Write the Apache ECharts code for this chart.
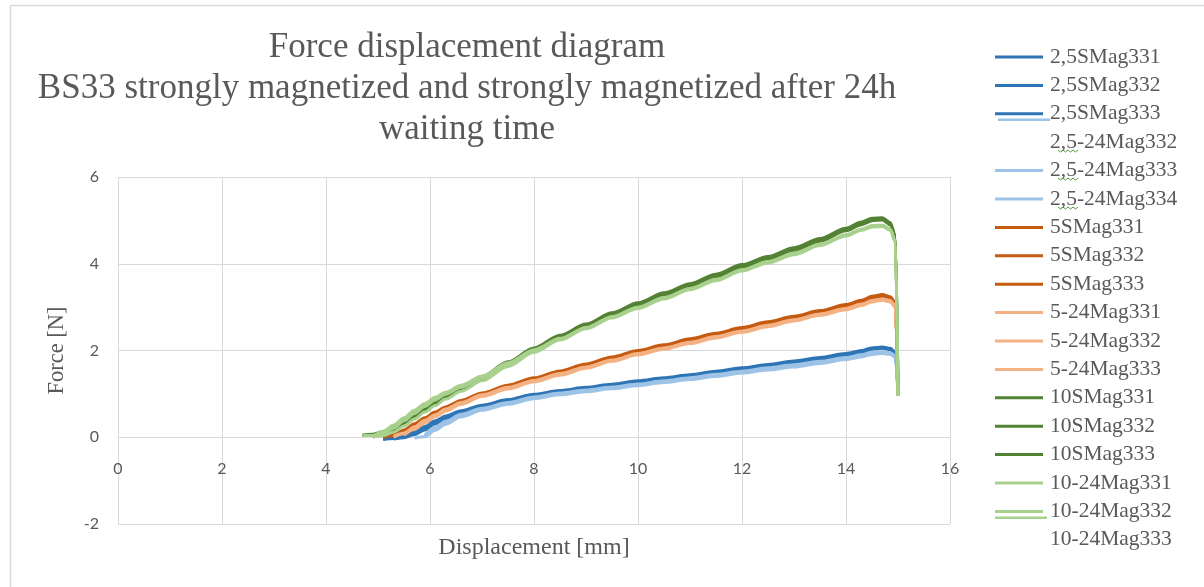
<!DOCTYPE html>
<html>
<head>
<meta charset="utf-8">
<title>Force displacement diagram</title>
<script src="https://cdn.jsdelivr.net/npm/echarts@6/dist/echarts.min.js"></script>
<style>
  html, body { margin: 0; padding: 0; background: #ffffff; }
  #chart { width: 1204px; height: 587px; }
</style>
</head>
<body>
<div id="chart"></div>
<script>
// Displacement grid [mm] shared by all measurement runs
const disp = [4.7, 4.9, 5.1, 5.3, 5.5, 5.7, 5.9, 6.1, 6.3, 6.6, 7.0, 7.5, 8.0, 8.5, 9.0, 9.5,
              10.0, 10.5, 11.0, 11.5, 12.0, 12.5, 13.0, 13.5, 14.0, 14.3, 14.5, 14.7, 14.85, 14.95, 15.0];

// Force [N] per run (null = run not yet started)
const f25S331 = [null, null, -0.05, -0.03, 0.01, 0.09, 0.21, 0.35, 0.46, 0.59, 0.72, 0.85, 0.98, 1.06, 1.13, 1.21, 1.28, 1.35, 1.43, 1.50, 1.58, 1.66, 1.74, 1.82, 1.91, 1.98, 2.05, 2.07, 2.04, 1.95, 1.05];
const f25S332 = [null, null, -0.04, -0.02, 0.03, 0.12, 0.25, 0.38, 0.49, 0.61, 0.74, 0.87, 0.99, 1.08, 1.15, 1.22, 1.30, 1.37, 1.44, 1.52, 1.60, 1.68, 1.76, 1.84, 1.93, 2.00, 2.06, 2.08, 2.05, 1.96, 1.10];
const f25S333 = [null, null, null, -0.04, -0.01, 0.06, 0.17, 0.31, 0.43, 0.57, 0.70, 0.83, 0.96, 1.05, 1.11, 1.19, 1.26, 1.33, 1.41, 1.48, 1.56, 1.64, 1.72, 1.80, 1.89, 1.96, 2.03, 2.05, 2.02, 1.93, 1.00];
const f25h332 = [null, null, null, null, null, null, 0.03, 0.20, 0.34, 0.50, 0.64, 0.78, 0.91, 1.00, 1.07, 1.14, 1.21, 1.28, 1.35, 1.42, 1.50, 1.57, 1.64, 1.72, 1.81, 1.87, 1.93, 1.95, 1.93, 1.86, 1.05];
const f25h333 = [null, null, null, null, null, -0.02, 0.01, 0.16, 0.30, 0.47, 0.62, 0.76, 0.89, 0.98, 1.05, 1.12, 1.19, 1.26, 1.33, 1.40, 1.48, 1.55, 1.62, 1.70, 1.79, 1.85, 1.91, 1.93, 1.91, 1.84, 1.00];
const f25h334 = [null, null, null, null, null, null, 0.05, 0.23, 0.37, 0.53, 0.67, 0.80, 0.93, 1.02, 1.09, 1.16, 1.23, 1.30, 1.37, 1.45, 1.52, 1.60, 1.67, 1.75, 1.84, 1.90, 1.96, 1.97, 1.95, 1.88, 1.10];

const f5S331 = [null, null, 0.00, 0.04, 0.14, 0.28, 0.42, 0.55, 0.67, 0.82, 0.99, 1.17, 1.34, 1.50, 1.66, 1.82, 1.97, 2.10, 2.24, 2.37, 2.50, 2.63, 2.76, 2.89, 3.03, 3.13, 3.22, 3.27, 3.22, 3.08, 1.00];
const f5S332 = [null, null, 0.01, 0.06, 0.17, 0.31, 0.45, 0.58, 0.70, 0.85, 1.02, 1.20, 1.37, 1.53, 1.69, 1.85, 2.00, 2.13, 2.27, 2.40, 2.53, 2.66, 2.79, 2.92, 3.06, 3.16, 3.25, 3.29, 3.24, 3.10, 1.05];
const f5S333 = [null, null, null, 0.02, 0.11, 0.25, 0.39, 0.52, 0.64, 0.79, 0.97, 1.15, 1.32, 1.48, 1.64, 1.80, 1.95, 2.08, 2.22, 2.35, 2.48, 2.61, 2.74, 2.87, 3.01, 3.11, 3.20, 3.25, 3.20, 3.06, 0.95];
const f5h331 = [null, null, null, 0.00, 0.08, 0.22, 0.37, 0.50, 0.63, 0.78, 0.96, 1.13, 1.30, 1.45, 1.61, 1.77, 1.92, 2.05, 2.18, 2.31, 2.44, 2.57, 2.70, 2.83, 2.96, 3.06, 3.14, 3.18, 3.14, 3.02, 1.00];
const f5h332 = [null, null, null, null, 0.05, 0.18, 0.33, 0.47, 0.60, 0.76, 0.94, 1.11, 1.28, 1.43, 1.59, 1.75, 1.90, 2.03, 2.16, 2.29, 2.42, 2.55, 2.68, 2.81, 2.94, 3.04, 3.12, 3.16, 3.12, 3.00, 0.95];
const f5h333 = [null, null, null, 0.02, 0.10, 0.24, 0.39, 0.52, 0.65, 0.80, 0.98, 1.15, 1.31, 1.47, 1.62, 1.78, 1.93, 2.06, 2.19, 2.32, 2.45, 2.58, 2.71, 2.84, 2.97, 3.07, 3.15, 3.19, 3.15, 3.03, 1.05];

const f10S331 = [0.05, 0.06, 0.10, 0.20, 0.36, 0.52, 0.68, 0.82, 0.96, 1.13, 1.36, 1.70, 2.03, 2.32, 2.58, 2.84, 3.07, 3.30, 3.51, 3.73, 3.95, 4.14, 4.34, 4.55, 4.79, 4.93, 5.02, 5.04, 4.93, 4.62, 1.05];
const f10S332 = [0.04, 0.07, 0.13, 0.24, 0.40, 0.56, 0.72, 0.86, 1.00, 1.17, 1.40, 1.74, 2.06, 2.35, 2.61, 2.87, 3.10, 3.33, 3.54, 3.76, 3.98, 4.17, 4.37, 4.58, 4.82, 4.96, 5.05, 5.06, 4.95, 4.64, 1.10];
const f10S333 = [null, 0.05, 0.08, 0.17, 0.32, 0.48, 0.64, 0.78, 0.92, 1.10, 1.33, 1.67, 2.00, 2.29, 2.55, 2.81, 3.04, 3.27, 3.48, 3.70, 3.92, 4.11, 4.31, 4.52, 4.76, 4.90, 4.99, 5.01, 4.90, 4.59, 1.00];
const f10h331 = [0.04, 0.04, 0.14, 0.28, 0.45, 0.62, 0.78, 0.92, 1.04, 1.20, 1.41, 1.72, 2.02, 2.28, 2.53, 2.78, 3.00, 3.22, 3.43, 3.64, 3.86, 4.05, 4.24, 4.45, 4.67, 4.80, 4.88, 4.89, 4.80, 4.52, 1.05];
const f10h332 = [null, 0.00, 0.04, 0.12, 0.26, 0.42, 0.58, 0.73, 0.88, 1.06, 1.30, 1.63, 1.96, 2.24, 2.50, 2.75, 2.97, 3.19, 3.40, 3.61, 3.83, 4.02, 4.21, 4.42, 4.64, 4.77, 4.85, 4.86, 4.77, 4.50, 0.95];
const f10h333 = [null, 0.02, 0.09, 0.21, 0.38, 0.55, 0.71, 0.86, 0.99, 1.15, 1.37, 1.68, 1.99, 2.26, 2.52, 2.77, 2.99, 3.21, 3.42, 3.63, 3.85, 4.04, 4.23, 4.44, 4.66, 4.79, 4.87, 4.88, 4.79, 4.51, 1.00];

// Run names in legend order
const runNames = [
  '2,5SMag331', '2,5SMag332', '2,5SMag333',
  '2,5-24Mag332', '2,5-24Mag333', '2,5-24Mag334',
  '5SMag331', '5SMag332', '5SMag333',
  '5-24Mag331', '5-24Mag332', '5-24Mag333',
  '10SMag331', '10SMag332', '10SMag333',
  '10-24Mag331', '10-24Mag332', '10-24Mag333'
];
const runForces = [
  f25S331, f25S332, f25S333, f25h332, f25h333, f25h334,
  f5S331, f5S332, f5S333, f5h331, f5h332, f5h333,
  f10S331, f10S332, f10S333, f10h331, f10h332, f10h333
];

// Axis ticks
const xTicks = { min: 0, max: 16, step: 2 };
const yTicks = { min: -2, max: 6, step: 2 };

const palette = {
  blueDark: '#2e75b6', blueLight: '#9dc3e6',
  orangeDark: '#c55a11', orangeLight: '#f4b183',
  greenDark: '#548235', greenLight: '#a9d18e'
};
const runColors = [
  palette.blueDark, palette.blueDark, palette.blueDark,
  palette.blueLight, palette.blueLight, palette.blueLight,
  palette.orangeDark, palette.orangeDark, palette.orangeDark,
  palette.orangeLight, palette.orangeLight, palette.orangeLight,
  palette.greenDark, palette.greenDark, palette.greenDark,
  palette.greenLight, palette.greenLight, palette.greenLight
];

const textGray = '#595959';
const gridGray = '#d9d9d9';
const serif = '"Liberation Serif", "DejaVu Serif", serif';
const sans = 'Lato, "Open Sans", sans-serif';

function toPoints(values) {
  const pts = [];
  values.forEach((v, i) => { if (v !== null) pts.push([disp[i], v]); });
  return pts;
}

const series = runNames.map((name, i) => ({
  name: name,
  type: 'line',
  data: toPoints(runForces[i]),
  symbol: 'none',
  showSymbol: false,
  smooth: 0.3,
  smoothMonotone: 'x',
  color: runColors[i],
  lineStyle: { width: 3, color: runColors[i] },
  emphasis: { disabled: true }
}));

// Two legend entries carry their key line one row higher
const shiftedKeys = ['2,5-24Mag332', '10-24Mag333'];
const legendData = runNames.map(n => shiftedKeys.includes(n)
  ? { name: n, itemStyle: { color: 'rgba(0,0,0,0)' } }
  : { name: n });

// small wavy proofing underline beneath ",5"
function squiggle(x0, y0) {
  const pts = [];
  for (let k = 0; k <= 8; k++) pts.push([x0 + k * 2.5, y0 + (k % 2 ? 2 : 0)]);
  return { type: 'polyline', silent: true, shape: { points: pts },
           style: { stroke: '#4f9a3c', lineWidth: 1, fill: null } };
}

const chart = echarts.init(document.getElementById('chart'), null, { renderer: 'canvas' });
chart.setOption({
  animation: false,
  backgroundColor: '#ffffff',
  title: {
    text: 'Force displacement diagram\nBS33 strongly magnetized and strongly magnetized after 24h\nwaiting time',
    left: 462,
    textAlign: 'center',
    top: 22,
    textStyle: { fontFamily: serif, fontSize: 35, lineHeight: 41, color: textGray, fontWeight: 'normal' }
  },
  legend: {
    orient: 'vertical',
    left: 995,
    top: 46,
    padding: 0,
    icon: 'rect',
    itemWidth: 48,
    itemHeight: 3,
    itemGap: 6.4,
    selectedMode: false,
    data: legendData,
    textStyle: { fontFamily: serif, fontSize: 21.5, lineHeight: 22, color: textGray, padding: [0, 0, 0, 2] }
  },
  grid: { left: 118, right: 254, top: 177, bottom: 63, containLabel: false, outerBoundsMode: 'none' },
  xAxis: {
    type: 'value',
    position: 'bottom',
    min: xTicks.min, max: xTicks.max, interval: xTicks.step,
    name: 'Displacement [mm]',
    nameLocation: 'middle',
    nameGap: 12,
    nameTextStyle: { fontFamily: serif, fontSize: 24, color: textGray },
    // the zero gridline serves as the horizontal axis; tick labels sit just under it
    axisLine: { show: false, onZero: false },
    axisTick: { show: false },
    axisLabel: { margin: -63, fontFamily: sans, fontSize: 16, color: textGray },
    splitLine: { show: true, lineStyle: { color: gridGray, width: 1 } }
  },
  yAxis: {
    type: 'value',
    min: yTicks.min, max: yTicks.max, interval: yTicks.step,
    name: 'Force [N]',
    nameLocation: 'middle',
    nameGap: 49,
    nameTextStyle: { fontFamily: serif, fontSize: 22.5, color: textGray },
    axisLine: { show: false },
    axisTick: { show: false },
    axisLabel: { margin: 19, fontFamily: sans, fontSize: 16, color: textGray },
    splitLine: { show: true, lineStyle: { color: gridGray, width: 1 } }
  },
  graphic: [
    // chart frame (left and top edges)
    { type: 'polyline', silent: true, shape: { points: [[10.5, 587], [10.5, 5.5], [1204, 5.5]] },
      style: { stroke: gridGray, lineWidth: 1.5, fill: null } },
    // legend keys drawn one row up
    { type: 'rect', silent: true, shape: { x: 998, y: 118.5, width: 52, height: 2.5 },
      style: { fill: palette.blueLight } },
    { type: 'rect', silent: true, shape: { x: 995, y: 516.5, width: 52, height: 2.5 },
      style: { fill: palette.greenLight } },
    squiggle(1058, 150),
    squiggle(1058, 178),
    squiggle(1058, 207)
  ],
  series: series
});
</script>
</body>
</html>
